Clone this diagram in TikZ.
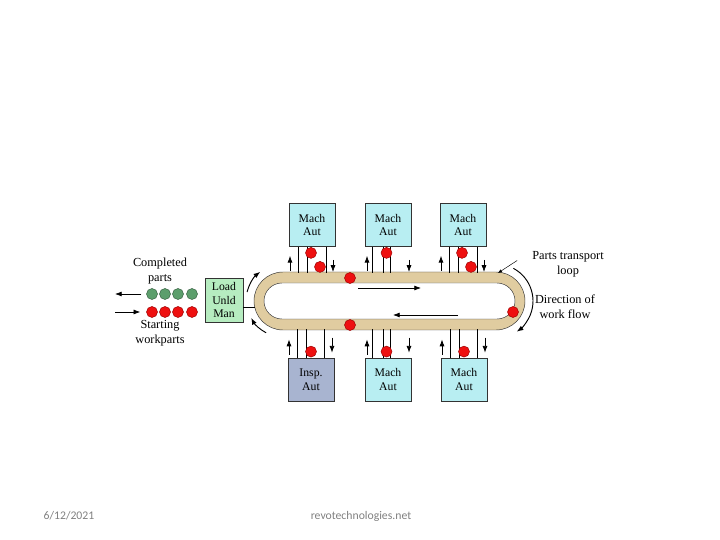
\documentclass[tikz,border=0pt]{standalone}
\usepackage{fontspec}
\setmainfont{Liberation Serif}
\newfontfamily\footfont{Carlito}
\usetikzlibrary{arrows.meta,calc,positioning}
\definecolor{beltcol}{RGB}{224,204,160}
\definecolor{machcol}{RGB}{184,238,242}
\definecolor{inspcol}{RGB}{168,180,208}
\definecolor{loadcol}{RGB}{182,236,192}
\definecolor{partgreen}{RGB}{92,158,108}
\definecolor{partred}{RGB}{238,16,16}
\tikzset{box/.style={draw=black!80,fill=machcol,align=center,minimum width=1.38cm,minimum height=1.3cm,inner sep=1pt,font=\fontsize{10}{11.5}\selectfont},
  inspbox/.style={box,fill=inspcol},
  loadbox/.style={box,fill=loadcol,minimum width=1.14cm,minimum height=1.32cm},
  part/.style={circle,draw=red!60!black,fill=partred,minimum size=0.33cm,inner sep=0pt},
  donepart/.style={part,draw=partgreen!60!black,fill=partgreen},
  arr/.style={semithick,-{Latex[length=2mm,width=1.5mm]}},
  lbl/.style={align=center,font=\fontsize{10.5}{12.5}\selectfont},
  foot/.style={text=black!50,font=\footfont\fontsize{10}{12}\selectfont}}

\begin{document}
\begin{tikzpicture}[x=0.03cm,y=0.03cm]
\useasboundingbox (0,0) rectangle (720,-540);
% stations
\node[box] (mach1) at (312,-225) {Mach\\Aut};
\node[box] (mach2) at (388,-225) {Mach\\Aut};
\node[box] (mach3) at (463,-225) {Mach\\Aut};
\node[inspbox] (insp) at (311,-379.5) {Insp.\\Aut};
\node[box] (mach4) at (388,-379.5) {Mach\\Aut};
\node[box] (mach5) at (464,-379.5) {Mach\\Aut};
\node[loadbox] (load) at (224,-300) {Load\\Unld\\Man};
% transport loop
\filldraw[fill=beltcol,draw=black!80,rounded corners=0.87cm] (254,-272) rectangle (525,-330);
\filldraw[fill=white,draw=black!80,rounded corners=0.54cm] (264,-283) rectangle (515,-319);
\coordinate (trtop) at (0,-273);
\coordinate (trbot) at (0,-329);
\coordinate (trleft) at (255,-307);
\draw (load.east |- trleft) -- (trleft);
\draw[arr] (358,-288) -- (421,-288);
\draw[arr] (458,-315) -- (393,-315);
% spurs
\foreach \st in {mach1,mach3}{
  \foreach \dx in {-14,-5,14}
    \draw (\st.south) ++(\dx,0) coordinate (s) -- (s |- trtop);
  \draw[arr] (\st.south) ++(-22,-24) -- ++(0,15);
  \draw[arr] (\st.south) ++(21,-13) -- ++(0,-12);
  \node[part] at ($(\st.south)+(-1,-6)$) {};
  \node[part] at ($(\st.south)+(8,-20)$) {};
}
\foreach \st in {insp,mach5}{
  \foreach \dx in {-14,-5,13}
    \draw (\st.north) ++(\dx,0) coordinate (s) -- (s |- trbot);
  \draw[arr] (\st.north) ++(-22,3) -- ++(0,15);
  \draw[arr] (\st.north) ++(21,20) -- ++(0,-15);
  \node[part] at ($(\st.north)+(0,6)$) {};
}
\foreach \dx in {-16,-5,2}
  \draw (mach2.south) ++(\dx,0) coordinate (s) -- (s |- trtop);
\draw[arr] (mach2.south) ++(-21,-24) -- ++(0,15);
\draw[arr] (mach2.south) ++(21,-13) -- ++(0,-12);
\node[part] (p2) at ($(mach2.south)+(-1.5,-6)$) {};
\foreach \dx in {-16,-5,2}
  \draw (mach4.north) ++(\dx,0) coordinate (s) -- (s |- trbot);
\draw[arr] (mach4.north) ++(-21,3) -- ++(0,15);
\draw[arr] (mach4.north) ++(21,20) -- ++(0,-15);
\node[part] (p4) at ($(mach4.north)+(-1.5,6)$) {};
% parts on the loop
\node[part] (pt) at (350,-278) {};
\node[part] (pb) at (350,-325) {};
\node[part] (pr) at (513,-312) {};
% flow arrows
\draw[arr,thick] ($(496,-301)+(62:37)$) arc[start angle=62,end angle=-56,radius=37];
\draw[arr,thick] ($(283,-301)+(166:37)$) arc[start angle=166,end angle=128,radius=37];
\draw[arr,thick] ($(283,-301)+(242:36)$) arc[start angle=242,end angle=208,radius=36];
% load / unload queue
\foreach \i/\x in {1/152,2/165,3/178,4/192}{
  \node[donepart] (done\i) at (\x,-294) {};
  \node[part] (start\i) at (\x,-312) {};
}
\coordinate (out) at (115,-294);
\coordinate (in) at (115,-312);
\draw[arr] ($(done1.west)+(-5,0)$) -- (out);
\draw[arr] (in) -- ($(start1.west)+(-6,0)$);
\node[lbl] (donelbl) at (160,-271) {Completed\\parts};
\node[lbl] (startlbl) at (160,-333) {Starting\\workparts};
% labels
\node[lbl] (looplbl) at (568,-264.5) {Parts transport\\loop};
\node[lbl] (flowlbl) at (565,-306.5) {Direction of\\work flow};
\coordinate (loopedge) at (498,-273);
\draw[-{Latex[length=1.2mm,width=1mm]},thin] ($(looplbl.west)+(-11,4)$) -- (loopedge);
% footer
\node[foot] (date) at (69,-516) {6/12/2021};
\node[foot] (site) at (361,-516) {revotechnologies.net};
\end{tikzpicture}
\end{document}
